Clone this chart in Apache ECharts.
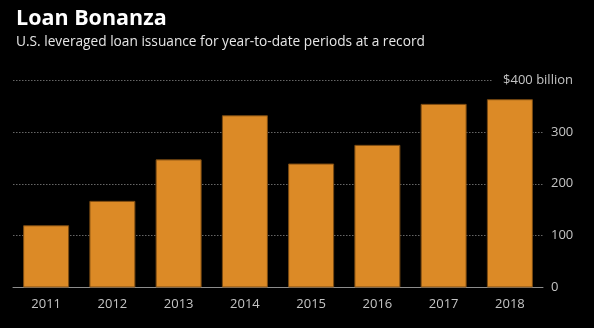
<!DOCTYPE html>
<html>
<head>
<meta charset="utf-8">
<script src="https://cdn.jsdelivr.net/npm/echarts@6/dist/echarts.min.js"></script>
<style>
html,body{margin:0;padding:0;background:#000;}
#c{width:594px;height:328px;}
</style>
</head>
<body>
<div id="c"></div>
<script>
const years = ['2011','2012','2013','2014','2015','2016','2017','2018'];
const issuance = [120, 167, 247, 332, 239, 275, 354, 363];
const yTicks = [0, 100, 200, 300, 400];
const titleText = 'Loan Bonanza';
const subtitleText = 'U.S. leveraged loan issuance for year-to-date periods at a record';
const unitLabel = '$400 billion';

const FONT = 'Open Sans';
const chart = echarts.init(document.getElementById('c'), null, {renderer: 'canvas'});
chart.setOption({
  backgroundColor: '#000',
  animation: false,
  title: [
    {text: titleText, left: 11, top: 3, textStyle: {color: '#fff', fontFamily: FONT, fontWeight: 'bold', fontSize: 21.5}},
    {text: subtitleText, left: 11, top: 30, textStyle: {color: '#e6e6e6', fontFamily: FONT, fontWeight: 'normal', fontSize: 13.7}}
  ],
  grid: {left: 13, right: 51, top: 80, bottom: 40.5, containLabel: false},
  xAxis: {
    type: 'category',
    data: years,
    axisLine: {lineStyle: {color: '#8c8c8c', width: 1}},
    axisTick: {alignWithLabel: true, length: 4, lineStyle: {color: '#8c8c8c'}},
    axisLabel: {color: '#c4c4c4', fontFamily: FONT, fontSize: 13, margin: 10}
  },
  yAxis: [
    {
      type: 'value', position: 'right', min: yTicks[0], max: yTicks[yTicks.length-1], interval: 100,
      axisLine: {show: false}, axisTick: {show: false},
      splitLine: {show: true, lineStyle: {color: '#666', type: [1.5, 1.5], width: 1}},
      axisLabel: {color: '#c4c4c4', fontFamily: FONT, fontSize: 13, margin: 8, align: 'left',
        formatter: v => v === yTicks[yTicks.length-1] ? '' : String(v)}
    },
    {
      type: 'value', position: 'right', min: yTicks[0], max: yTicks[yTicks.length-1], interval: 100,
      axisLine: {show: false}, axisTick: {show: false}, splitLine: {show: false},
      axisLabel: {margin: 30, align: 'right',
        formatter: v => v === yTicks[yTicks.length-1] ? '{a|' + unitLabel + '}' : '',
        rich: {a: {color: '#c4c4c4', fontFamily: FONT, fontSize: 13, backgroundColor: '#000', padding: [3, 0, 3, 10]}}}
    }
  ],
  series: [{
    type: 'bar',
    data: issuance,
    barWidth: 46,
    itemStyle: {color: '#dc8a26', borderColor: '#7a4a12', borderWidth: 1}
  }]
});
</script>
</body>
</html>
